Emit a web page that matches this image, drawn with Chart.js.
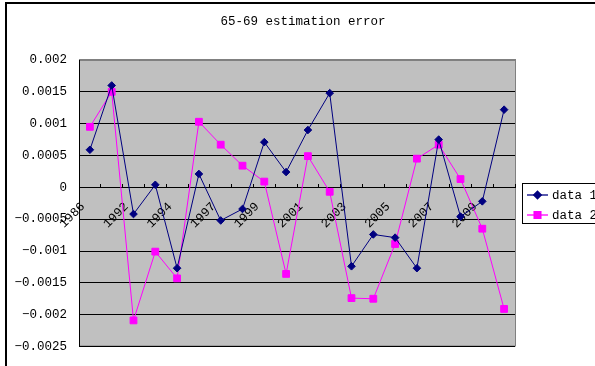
<!DOCTYPE html>
<html>
<head>
<meta charset="utf-8">
<script src="https://cdn.jsdelivr.net/npm/chart.js@4.4.1/dist/chart.umd.min.js"></script>
<style>
  body { margin: 0; background: #fff; }
  #wrap { width: 595px; height: 366px; }
</style>
</head>
<body>
<div id="wrap"><canvas id="myChart" width="595" height="366"></canvas></div>
<script>
// categories (only every other one is labelled on the axis)
var years = ['1986','1990','1992','1993','1994','1996','1997','1998','1999','2000',
             '2001','2002','2003','2004','2005','2006','2007','2008','2009','2010'];
// series values
var data1 = [0.00059, 0.0016, -0.00042, 0.00004, -0.00127, 0.00021, -0.00052, -0.00034, 0.00071, 0.00024,
             0.0009, 0.00148, -0.00124, -0.00074, -0.00079, -0.00127, 0.00075, -0.00046, -0.00022, 0.00122];
var data2 = [0.00095, 0.0015, -0.00209, -0.00101, -0.00143, 0.00103, 0.00067, 0.00034, 0.00009, -0.00136,
             0.00049, -0.00007, -0.00174, -0.00175, -0.00089, 0.00045, 0.00067, 0.00013, -0.00065, -0.00191];
var yMin = -0.0025, yMax = 0.002, yStep = 0.0005;
var titleText = '65-69 estimation error';

var fontFam = '"Liberation Mono", monospace';
var txtFont = { family: fontFam, size: 12.5, weight: 'normal' };

// grey plot area + outer frame
var bgPlugin = {
    id: 'bg',
    beforeDraw: function(chart){
        var c = chart.ctx, a = chart.chartArea;
        c.save();
        c.strokeStyle = '#000';
        c.lineWidth = 2;
        c.strokeRect(6, 3, 900, 900);
        c.fillStyle = '#c0c0c0';
        c.fillRect(a.left, a.top, a.right - a.left, a.bottom - a.top);
        c.strokeStyle = '#808080';
        c.lineWidth = 1;
        c.strokeRect(a.left + 0.5, a.top - 0.5, a.right - a.left, a.bottom - a.top);
        c.restore();
    }
};

// title centred on the whole frame + boxed legend (line + marker)
var legendPlugin = {
    id: 'boxLegend',
    afterDraw: function(chart){
        var c = chart.ctx;
        c.save();
        c.fillStyle = '#000';
        c.font = '12.5px ' + fontFam;
        c.textAlign = 'center';
        c.textBaseline = 'middle';
        c.fillText(titleText, 303, 22);

        c.strokeStyle = '#000';
        c.lineWidth = 1;
        c.strokeRect(522.5, 183.5, 120, 40);
        chart.data.datasets.forEach(function(ds, i){
            var y = 195 + i * 20;
            c.strokeStyle = ds.borderColor;
            c.lineWidth = 1.3;
            c.beginPath(); c.moveTo(527, y); c.lineTo(548, y); c.stroke();
            Chart.helpers.drawPoint(c, {pointStyle: ds.pointStyle, radius: ds.pointRadius, borderWidth: 1}, 537.5, y);
            c.fillStyle = ds.pointBackgroundColor;
            c.strokeStyle = ds.borderColor;
            c.fill();
            c.fillStyle = '#000';
            c.textBaseline = 'middle';
            c.textAlign = 'left';
            c.fillText(ds.label, 552, y + 1);
        });
        c.restore();
    }
};

var ctx = document.getElementById('myChart').getContext('2d');
var myChart = new Chart(ctx, {
    type: 'line',
    data: {
        labels: years,
        datasets: [{
            label: 'data 1',
            data: data1,
            borderColor: '#000080',
            backgroundColor: '#000080',
            pointBackgroundColor: '#000080',
            borderWidth: 1,
            pointStyle: 'rectRot',
            pointRadius: 3.8,
            pointBorderWidth: 1,
            tension: 0
        }, {
            label: 'data 2',
            data: data2,
            borderColor: '#ff00ff',
            backgroundColor: '#ff00ff',
            pointBackgroundColor: '#ff00ff',
            borderWidth: 1,
            pointStyle: 'rect',
            pointRadius: 4.8,
            pointBorderWidth: 1,
            tension: 0
        }]
    },
    options: {
        responsive: false,
        animation: false,
        devicePixelRatio: 1,
        layout: { padding: { top: 60, left: 14, right: 80, bottom: 17 } },
        plugins: {
            legend: { display: false },
            tooltip: { enabled: false },
            title: { display: false }
        },
        scales: {
            x: {
                type: 'category',
                position: { y: 0 },
                offset: true,
                afterFit: function(s){ s.paddingLeft = 0; s.paddingRight = 0; },
                grid: {
                    offset: true,
                    drawOnChartArea: false,
                    drawTicks: true,
                    tickLength: -4,
                    color: '#000'
                },
                border: { color: '#000', width: 1 },
                ticks: {
                    autoSkip: false,
                    minRotation: 45,
                    maxRotation: 45,
                    padding: 16,
                    labelOffset: -7,
                    color: '#000',
                    font: txtFont,
                    callback: function(v, i){ return i % 2 === 0 ? this.getLabelForValue(v) : ''; }
                }
            },
            y: {
                min: yMin,
                max: yMax,
                afterFit: function(s){ s.width = 65; },
                grid: {
                    drawTicks: false,
                    color: function(c){ return (c.tick && Math.abs(c.tick.value - yMax) < 1e-9) ? '#808080' : '#000'; },
                    lineWidth: 1
                },
                border: { color: '#000', width: 1 },
                ticks: {
                    stepSize: yStep,
                    padding: 12,
                    color: '#000',
                    font: txtFont,
                    callback: function(v){
                        var n = Math.round(v * 1e4) / 1e4;
                        return n < 0 ? '\u2212' + String(-n) : String(n);
                    }
                }
            }
        }
    },
    plugins: [bgPlugin, legendPlugin]
});
</script>
</body>
</html>
